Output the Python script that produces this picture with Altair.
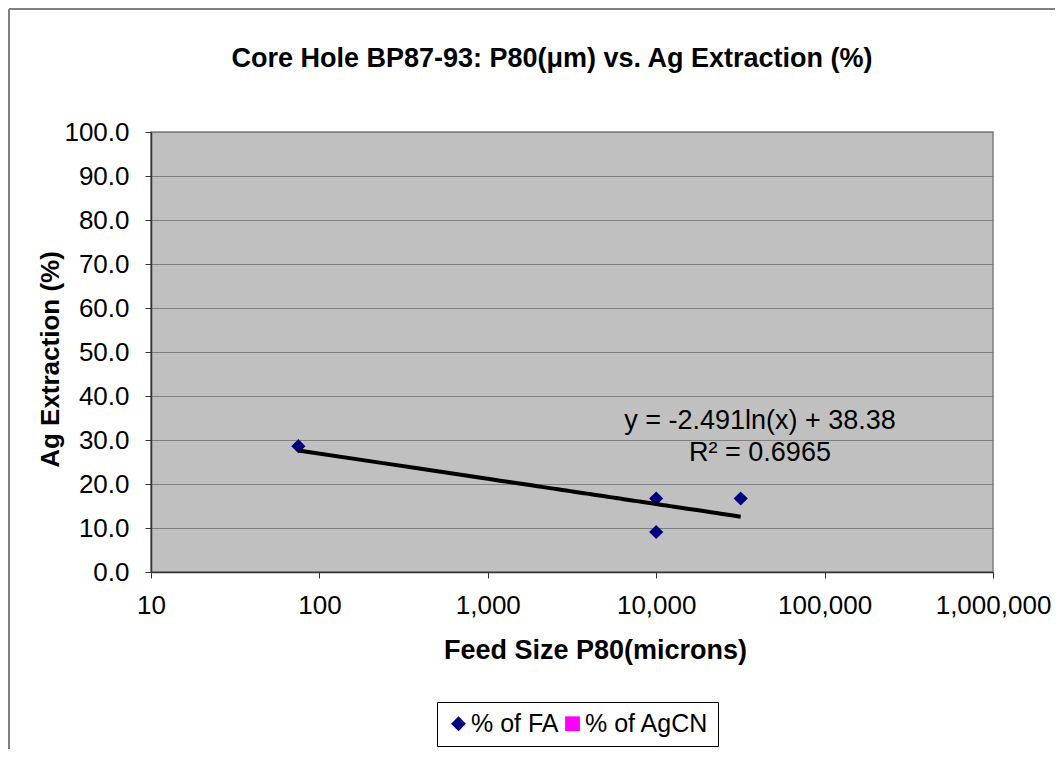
import altair as alt
import pandas as pd

# ---- data ----
series_names = ["% of FA", "% of AgCN"]
series_colors = ["#000080", "#FF00FF"]
series_shapes = ["diamond", "square"]
p80_microns = [75, 10000, 10000, 31750]
ag_extraction = [28.6, 16.7, 9.1, 16.7]
x_tick_values = [10, 100, 1000, 10000, 100000, 1000000]
y_tick_values = [0, 10, 20, 30, 40, 50, 60, 70, 80, 90, 100]
trend_label = ["y = -2.491ln(x) + 38.38", "R\u00b2 = 0.6965"]
chart_title = "Core Hole BP87-93: P80(\u03bcm) vs. Ag Extraction (%)"

df = pd.DataFrame({
    "p80": p80_microns,
    "ext": ag_extraction,
    "series": [series_names[0]] * len(p80_microns),
})
one_row = pd.DataFrame({"k": [0]})

FONT = "Liberation Sans"
PLOT_W, PLOT_H = 842, 440

x_enc = alt.X(
    "p80:Q",
    scale=alt.Scale(type="log", domain=[10, 1000000], nice=False),
    axis=alt.Axis(
        values=x_tick_values, format=",", grid=False,
        title="Feed Size P80(microns)",
        labelFontSize=26, labelPadding=14, tickSize=6,
        labelFlush=False, labelOverlap=False,
        titleFontSize=27, titleX=444, titleY=86,
        titleBaseline="alphabetic", titleAlign="center",
    ),
)
y_enc = alt.Y(
    "ext:Q",
    scale=alt.Scale(domain=[0, 100], nice=False),
    axis=alt.Axis(
        values=y_tick_values, format=".1f", grid=True,
        title="Ag Extraction (%)",
        labelFontSize=26, labelPadding=16, tickSize=6,
        labelFlush=False, labelOverlap=False,
        titleFontSize=26, titleX=-93, titleY=227, titleAngle=270,
        titleBaseline="alphabetic", titleAlign="center",
    ),
)

points = alt.Chart(df).mark_point(filled=True, opacity=1, size=200).encode(
    x=x_enc,
    y=y_enc,
    color=alt.Color(
        "series:N",
        scale=alt.Scale(domain=series_names, range=series_colors),
        title=None,
        legend=alt.Legend(
            orient="none", legendX=286, legendY=570, direction="horizontal",
            strokeColor="black", fillColor="white", padding=9,
            labelFontSize=25, labelFont=FONT, labelColor="black",
            symbolSize=220, symbolStrokeWidth=0, labelOffset=0,
            columnPadding=1, labelLimit=300,
        ),
    ),
    shape=alt.Shape(
        "series:N",
        scale=alt.Scale(domain=series_names, range=series_shapes),
        title=None,
    ),
)

trend = alt.Chart(df).transform_regression(
    "p80", "ext", method="log"
).mark_line(color="black", strokeWidth=4).encode(x="p80:Q", y="ext:Q")

eq_text = alt.Chart(one_row).mark_text(
    text=trend_label, align="center", baseline="alphabetic",
    fontSize=27, lineHeight=32.4, font=FONT, color="black",
).encode(x=alt.value(609), y=alt.value(297))

title_text = alt.Chart(one_row).mark_text(
    text=chart_title, align="center", baseline="alphabetic",
    fontSize=27, fontWeight="bold", font=FONT, color="black",
).encode(x=alt.value(401), y=alt.value(-65))

frame_top = alt.Chart(one_row).mark_rule(color="#808080", strokeWidth=2).encode(
    x=alt.value(-142), x2=alt.value(1000), y=alt.value(-123)
)
frame_left = alt.Chart(one_row).mark_rule(color="#808080", strokeWidth=2).encode(
    x=alt.value(-142), y=alt.value(-123), y2=alt.value(700)
)

chart = alt.layer(points, trend, eq_text, title_text, frame_top, frame_left).properties(
    width=PLOT_W,
    height=PLOT_H,
    background="white",
    autosize=alt.AutoSizeParams(type="none"),
    padding={"left": 143, "top": 124, "right": 62, "bottom": 177},
).configure_view(
    fill="#C0C0C0", stroke="#808080", strokeWidth=1.5
).configure_axis(
    labelFont=FONT, titleFont=FONT, labelColor="black", titleColor="black",
    titleFontWeight="bold", domainColor="#333333", tickColor="#333333",
    gridColor="#808080", gridWidth=1, gridOpacity=1, domainWidth=1.5,
)

chart.save("out.html", embed_options={"renderer": "svg", "actions": False})
